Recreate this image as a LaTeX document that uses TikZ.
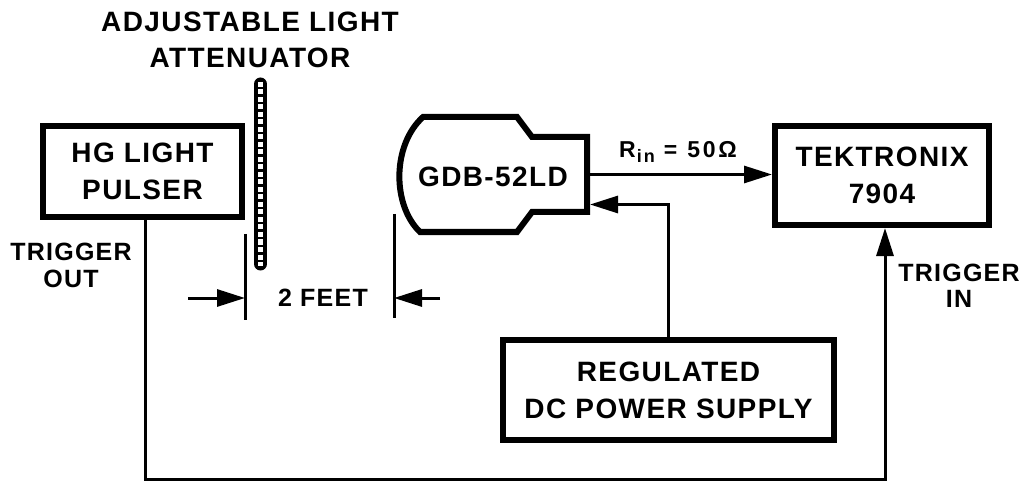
\documentclass[tikz,border=0pt]{standalone}
\usepackage{fontspec}
\newfontfamily\lbl{Liberation Sans}[LetterSpace=5]
\newfontfamily\lblw{Liberation Sans}[LetterSpace=12]
\usetikzlibrary{arrows.meta}
\begin{document}
\begin{tikzpicture}[x=1pt,y=-1pt,
  box/.style={draw, line width=6pt, inner sep=0pt},
  big/.style={font=\lbl\bfseries\fontsize{28}{37}\selectfont, align=center, inner sep=0pt},
  small/.style={font=\lbl\bfseries\fontsize{25}{27}\selectfont, align=center, inner sep=0pt},
  conn/.style={line width=3pt},
  arr/.style={conn, -{Triangle[length=28pt,width=17pt]}},
  outline/.style={line width=6pt, line join=miter}
]
\useasboundingbox (0,0) rectangle (1024,486);

% boxes
\node[box,big,minimum width=199pt,minimum height=91pt] (hg) at (142.5,171.5) {HG LIGHT\\PULSER};
\node[box,big,minimum width=214pt,minimum height=99pt] (tek) at (882,175.5) {TEKTRONIX\\7904};
\node[box,big,minimum width=331pt,minimum height=100pt] (psu) at (668.5,390) {REGULATED\\DC POWER SUPPLY};

% photomultiplier outline
\draw[outline] (423,117) -- (517,117) -- (532,137) -- (587,137) -- (587,212)
  -- (532,212) -- (517,232) -- (420,232) .. controls (392,205) and (392,145) .. cycle;
\node[big] (gdb) at (493,177) {GDB-52LD};
\node[minimum width=55pt, minimum height=75pt, inner sep=0pt, outer sep=3pt] (neck) at (559.5,174.5) {};

% title
\node[big, font=\lbl\bfseries\fontsize{28}{36}\selectfont] (title) at (250,40) {ADJUSTABLE LIGHT\\ATTENUATOR};

% attenuator
\coordinate (att1) at (260.5,84);
\coordinate (att2) at (260.5,264);
\draw[line width=13pt, line cap=round] (att1) -- (att2);
\draw[white, line width=4.5pt, dash pattern=on 5pt off 2.5pt] ([yshift=2pt]att1) -- ([yshift=-2pt]att2);

% signal connectors
\draw[arr] (neck.east) -- (neck.east -| tek.west);
\node[inner sep=0pt, anchor=base west, font=\lblw\bfseries\fontsize{23}{23}\selectfont] (rin) at (619,158)
  {R\kern1pt\raisebox{-5pt}{\fontsize{18}{18}\selectfont in}\kern9pt=\kern10pt50Ω};
\draw[arr] (psu.north) |- ([yshift=-30pt]neck.east);

% trigger line
\coordinate (tb) at (0,479);
\coordinate (tin0) at ([xshift=3pt]tek.south);
\draw[arr] ([xshift=2.5pt]hg.south) |- (tb -| tin0) -- (tin0);
\node[small] (tout) at (71,265.5) {TRIGGER\\OUT};
\node[small, font=\lbl\bfseries\fontsize{25}{26}\selectfont] (tin) at (959,286) {TRIGGER\\IN};

% distance dimension
\coordinate (dl1) at (245,234);
\coordinate (dl2) at (245,320);
\coordinate (dr1) at (394,214);
\coordinate (dr2) at (394,318);
\draw[conn] (dl1) -- (dl2);
\draw[conn] (dr1) -- (dr2);
\coordinate (al) at (188,298);
\coordinate (ar) at (440,298);
\draw[arr] (al) -- (al -| dl1);
\draw[arr] (ar) -- (ar -| dr1);
\node[small] (feet) at (323,298) {2 FEET};
\end{tikzpicture}
\end{document}
